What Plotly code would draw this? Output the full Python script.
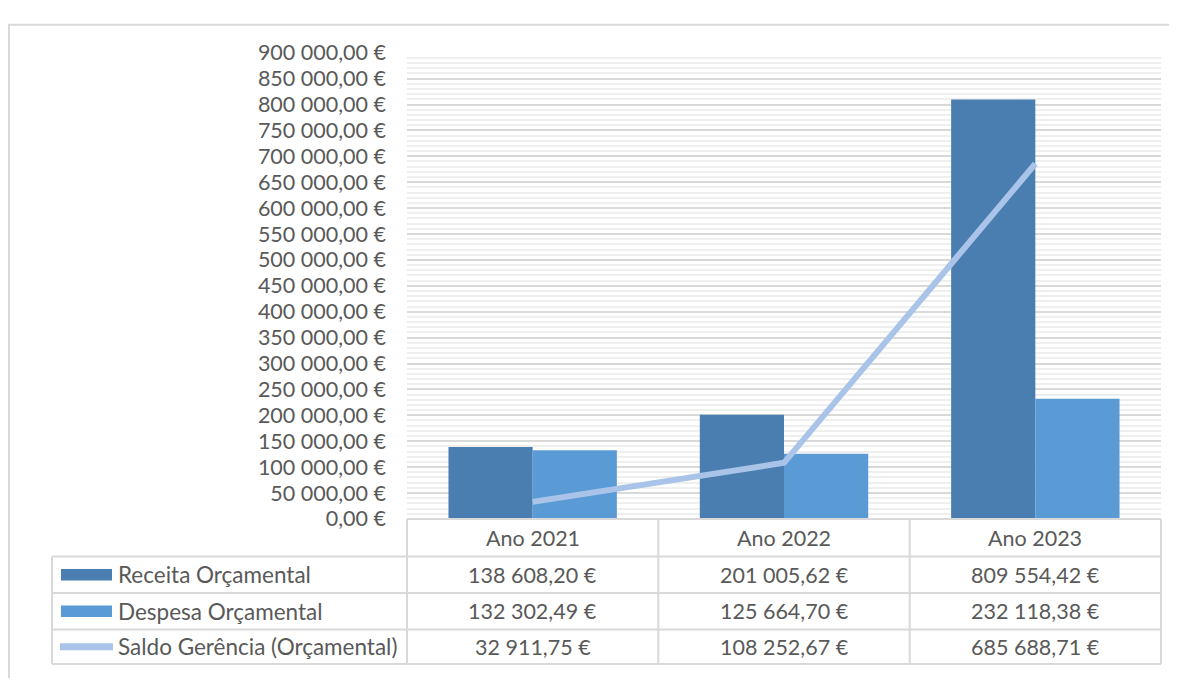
import plotly.graph_objects as go

# ---------------- data ----------------
categories = ["Ano 2021", "Ano 2022", "Ano 2023"]
series_names = ["Receita Orçamental", "Despesa Orçamental", "Saldo Gerência (Orçamental)"]
receita = [138608.20, 201005.62, 809554.42]
despesa = [132302.49, 125664.70, 232118.38]
saldo = [32911.75, 108252.67, 685688.71]

# ---------------- style ----------------
OFF = 8  # page body margin
W, H = 1177 - 2 * OFF, 686 - 2 * OFF   # figure fits exactly inside the window
C_REC = "#4A7EB0"
C_DES = "#5B9BD5"
C_SAL = "#A9C4E8"
TXT = "#595959"
GRID = "#D9D9D9"
FONT = "Lato"
FS = 21.5
FS_LEG = 22.5

def px(x):
    return (x - OFF) / W

def py(y):
    return 1 - (y - OFF) / H

def fmt(v):
    s = f"{v:,.2f}"
    s = s.replace(",", " ").replace(".", ",")
    return s + " €"

# layout geometry (pixels, in the photographed page)
X0, X1 = 407, 1161        # plot area
Y_TOP, Y_ZERO = 41, 526   # 900000 and 0
LEG_X = 52
ROWS = [526, 565, 603, 641, 677]

fig = go.Figure()
fig.add_trace(go.Bar(x=categories, y=receita, name=series_names[0], marker_color=C_REC, marker_line_width=0))
fig.add_trace(go.Bar(x=categories, y=despesa, name=series_names[1], marker_color=C_DES, marker_line_width=0))
fig.add_trace(go.Scatter(x=categories, y=saldo, name=series_names[2], mode="lines",
                         line=dict(color=C_SAL, width=6)))

shapes = []
annotations = []

# outer chart frame
shapes.append(dict(type="rect", xref="paper", yref="paper", x0=px(9), x1=px(1200), y0=py(720), y1=py(12),
                   line=dict(color=GRID, width=2), fillcolor="rgba(0,0,0,0)", layer="below"))

# table lines
line_style = dict(color=GRID, width=2)
shapes.append(dict(type="line", xref="paper", yref="paper", x0=px(X0), x1=px(X1), y0=py(ROWS[0]), y1=py(ROWS[0]), line=line_style))
for r in ROWS[1:]:
    shapes.append(dict(type="line", xref="paper", yref="paper", x0=px(LEG_X), x1=px(X1), y0=py(r), y1=py(r), line=line_style))
shapes.append(dict(type="line", xref="paper", yref="paper", x0=px(LEG_X), x1=px(LEG_X), y0=py(ROWS[1]), y1=py(ROWS[-1]), line=line_style))
ncat = len(categories)
colw = (X1 - X0) / ncat
for i in range(ncat + 1):
    xx = X0 + i * colw
    shapes.append(dict(type="line", xref="paper", yref="paper", x0=px(xx), x1=px(xx), y0=py(ROWS[0]), y1=py(ROWS[-1]), line=line_style))

# header texts
for i, c in enumerate(categories):
    cx = X0 + (i + 0.5) * colw
    annotations.append(dict(x=px(cx), y=py((ROWS[0] + ROWS[1]) / 2), xref="paper", yref="paper", text=c,
                            showarrow=False, xanchor="center", yanchor="middle",
                            font=dict(family=FONT, size=FS, color=TXT)))

# table rows
table = [receita, despesa, saldo]
colors = [C_REC, C_DES, C_SAL]
for r, (name, vals, col) in enumerate(zip(series_names, table, colors)):
    top, bot = ROWS[r + 1], ROWS[r + 2]
    cy = (top + bot) / 2
    if r < 2:
        shapes.append(dict(type="rect", xref="paper", yref="paper", x0=px(61), x1=px(112), y0=py(cy + 6), y1=py(cy - 6),
                           fillcolor=col, line=dict(width=0)))
    else:
        shapes.append(dict(type="line", xref="paper", yref="paper", x0=px(60), x1=px(113), y0=py(cy), y1=py(cy),
                           line=dict(color=col, width=7)))
    annotations.append(dict(x=px(116), y=py(cy), xref="paper", yref="paper", text=name, showarrow=False,
                            xanchor="left", yanchor="middle", font=dict(family=FONT, size=FS_LEG, color=TXT)))
    for i, v in enumerate(vals):
        cx = X0 + (i + 0.5) * colw
        annotations.append(dict(x=px(cx), y=py(cy), xref="paper", yref="paper", text=fmt(v), showarrow=False,
                                xanchor="center", yanchor="middle", font=dict(family=FONT, size=FS, color=TXT)))

fig.update_layout(
    width=W, height=H,
    margin=dict(l=0, r=0, t=0, b=0),
    paper_bgcolor="white", plot_bgcolor="white",
    separators=", ",
    barmode="group", bargap=0.33, bargroupgap=0,
    showlegend=False,
    shapes=shapes, annotations=annotations,
    xaxis=dict(domain=[px(X0), px(X1)], showticklabels=False, showgrid=False, zeroline=False,
               showline=False, ticks=""),
    yaxis=dict(domain=[py(Y_ZERO), py(Y_TOP)], range=[0, 900000], dtick=50000, tick0=0,
               tickformat=",.2f", ticksuffix=" €", showgrid=True, gridcolor=GRID, gridwidth=2,
               minor=dict(dtick=10000, showgrid=True, gridcolor="#EFEFEF", gridwidth=2),
               zeroline=False, showline=False, ticks="", ticklabelstandoff=20,
               tickfont=dict(family=FONT, size=FS, color=TXT)),
    font=dict(family=FONT, color=TXT),
)

fig.write_html("out.html")
